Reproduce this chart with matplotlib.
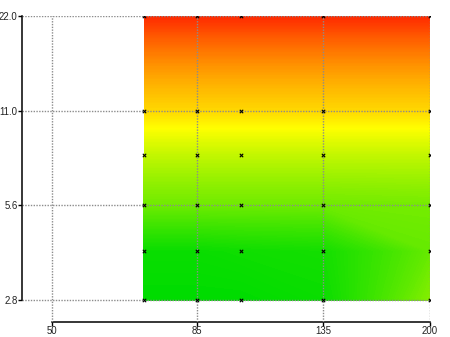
import numpy as np
import matplotlib
matplotlib.use("Agg")
from matplotlib import pyplot as plt
from matplotlib.colors import LinearSegmentedColormap
from matplotlib.ticker import FixedLocator, FixedFormatter, NullLocator

# grid of measured points
x_vals = [70, 85, 100, 135, 200]
y_vals = [2.8, 4, 5.6, 8, 11, 22]
# level at each point (rows follow y_vals, columns follow x_vals)
z_vals = [
    [0.00, 0.00, 0.00, 0.02, 0.26],
    [0.02, 0.02, 0.03, 0.04, 0.20],
    [0.22, 0.22, 0.22, 0.22, 0.23],
    [0.38, 0.38, 0.38, 0.38, 0.38],
    [0.59, 0.59, 0.59, 0.59, 0.59],
    [1.00, 1.00, 1.00, 1.00, 1.00],
]

x_ticks = [50, 85, 135, 200]
x_labels = ["50", "85", "135", "200"]
y_ticks = [2.8, 5.6, 11.0, 22.0]
y_labels = ["2.8", "5.6", "11.0", "22.0"]

plt.rcParams["font.family"] = ["Liberation Sans", "DejaVu Sans"]

cmap = LinearSegmentedColormap.from_list(
    "gyr", [(0.0, "#00dc00"), (0.5, "#ffff00"), (1.0, "#ff2800")])

fig = plt.figure(figsize=(4.5, 3.37), dpi=100)
ax = fig.add_axes([22 / 450, 15 / 337, 408 / 450, 306 / 337])
ax.set_xscale("log")
ax.set_yscale("log")

X, Y = np.meshgrid(x_vals, y_vals)
Z = np.array(z_vals)
ax.contourf(X, Y, Z, levels=np.linspace(-0.01, 1.01, 200), cmap=cmap,
            vmin=0, vmax=1, zorder=1)
ax.scatter(X.ravel(), Y.ravel(), marker="x", s=6, c="black", linewidths=0.8,
           zorder=4)

ax.set_xlim(44.8, 200)
ax.set_ylim(2.387, 22)

ax.xaxis.set_major_locator(FixedLocator(x_ticks))
ax.xaxis.set_major_formatter(FixedFormatter(x_labels))
ax.xaxis.set_minor_locator(NullLocator())
ax.yaxis.set_major_locator(FixedLocator(y_ticks))
ax.yaxis.set_major_formatter(FixedFormatter(y_labels))
ax.yaxis.set_minor_locator(NullLocator())

ax.grid(True, color="#8c8c8c", linestyle=(0, (1, 1)), linewidth=1, zorder=3)
ax.set_axisbelow(False)

for s in ["top", "right"]:
    ax.spines[s].set_visible(False)
ax.spines["left"].set_bounds(2.8, 22)
ax.spines["bottom"].set_bounds(50, 200)
ax.spines["left"].set_linewidth(1.1)
ax.spines["bottom"].set_linewidth(1.1)

ax.tick_params(axis="both", length=3, width=1, labelsize=6.9, pad=0.2,
               colors="black", labelcolor="#222222")

fig.savefig("out.png", dpi=100)
